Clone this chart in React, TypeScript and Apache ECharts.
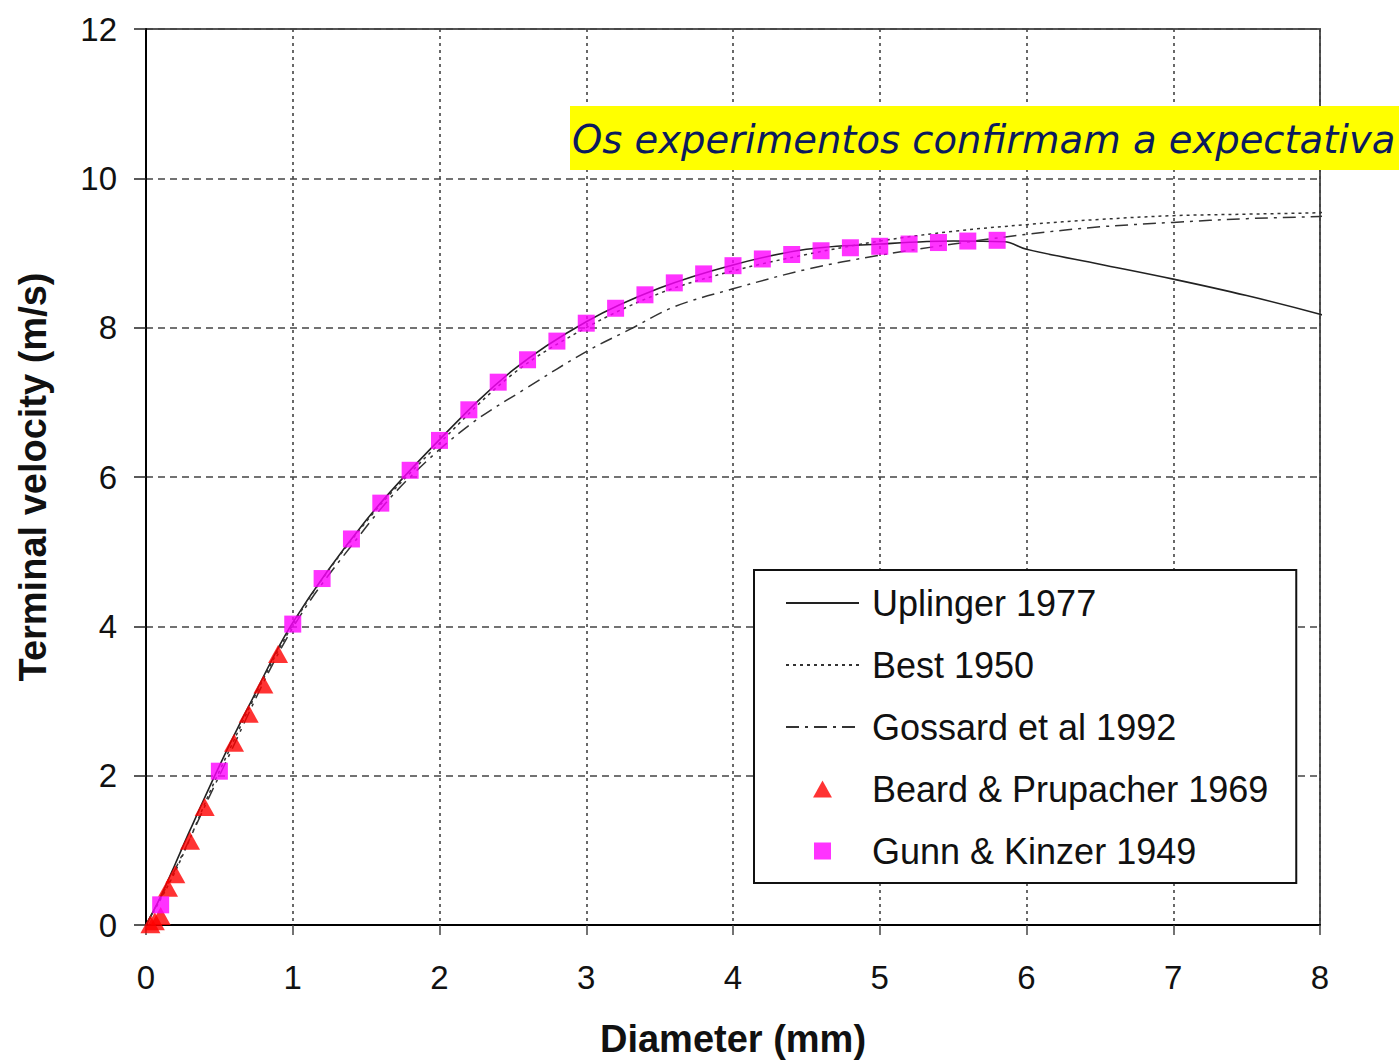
import React, { useEffect, useRef } from "react";
import * as echarts from "echarts";

// Terminal fall velocity of raindrops versus drop diameter

// Uplinger 1977 (solid curve)
const uplingerD = [0, 0.1, 0.2, 0.3, 0.5, 0.7, 1.0, 1.5, 2.0, 2.5, 3.0, 3.5, 4.0, 4.5, 5.0, 5.5, 5.85, 6.0, 6.5, 7.0, 7.5, 8.0, 8.07];
const uplingerV = [0, 0.38, 0.82, 1.27, 2.13, 2.93, 4.05, 5.42, 6.5, 7.43, 8.08, 8.53, 8.84, 9.05, 9.12, 9.16, 9.15, 9.05, 8.85, 8.65, 8.43, 8.18, 8.13];

// Best 1950 (dotted curve)
const bestD = [0, 0.2, 0.5, 1.0, 1.5, 2.0, 2.5, 3.0, 3.5, 4.0, 4.5, 5.0, 5.5, 6.0, 6.5, 7.0, 7.5, 8.0, 8.07];
const bestV = [0, 0.72, 2.06, 4.02, 5.4, 6.45, 7.38, 8.0, 8.46, 8.76, 8.98, 9.16, 9.29, 9.38, 9.45, 9.5, 9.52, 9.54, 9.55];

// Gossard et al 1992 (dash-dot curve)
const gossardD = [0, 0.2, 0.5, 1.0, 1.5, 1.8, 2.2, 2.6, 3.0, 3.3, 3.6, 4.0, 4.5, 5.0, 5.5, 6.0, 6.5, 7.0, 7.5, 8.0, 8.07];
const gossardV = [0, 0.75, 2.0, 3.98, 5.33, 6.0, 6.69, 7.2, 7.68, 7.98, 8.28, 8.52, 8.78, 8.97, 9.12, 9.25, 9.35, 9.41, 9.46, 9.49, 9.5];

// Beard & Prupacher 1969 (triangles)
const beardD = [0.03, 0.06, 0.1, 0.15, 0.2, 0.3, 0.4, 0.6, 0.7, 0.8, 0.9];
const beardV = [0.01, 0.05, 0.12, 0.5, 0.68, 1.13, 1.58, 2.44, 2.83, 3.22, 3.63];

// Gunn & Kinzer 1949 (squares)
const gunnD = [0.1, 0.5, 1.0, 1.2, 1.4, 1.6, 1.8, 2.0, 2.2, 2.4, 2.6, 2.8, 3.0, 3.2, 3.4, 3.6, 3.8, 4.0, 4.2, 4.4, 4.6, 4.8, 5.0, 5.2, 5.4, 5.6, 5.8];
const gunnV = [0.27, 2.06, 4.03, 4.64, 5.17, 5.65, 6.09, 6.49, 6.9, 7.27, 7.57, 7.82, 8.06, 8.26, 8.44, 8.6, 8.72, 8.83, 8.92, 8.98, 9.03, 9.07, 9.09, 9.12, 9.14, 9.16, 9.17];

const seriesNames = [
  "Uplinger 1977",
  "Best 1950",
  "Gossard et al 1992",
  "Beard & Prupacher 1969",
  "Gunn & Kinzer 1949",
];

const xAxisName = "Diameter (mm)";
const yAxisName = "Terminal velocity (m/s)";
const note = "Os experimentos confirmam a expectativa";

// Legend marker outlines (kept square/triangular inside the wide legend slot)
const TRIANGLE_ICON = "path://M0,18 L10,0 L20,18 Z";
const SQUARE_ICON = "path://M0,0 L10,0 L10,10 L0,10 Z";

const pairs = (xs: number[], ys: number[]) => xs.map((x, i) => [x, ys[i]]);

const FONT = '"Liberation Sans", Arial, sans-serif';

export default function App() {
  const ref = useRef<HTMLDivElement>(null);

  useEffect(() => {
    if (!ref.current) return;
    const chart = echarts.init(ref.current, null, { renderer: "svg" });

    const lineBase = {
      type: "line" as const,
      showSymbol: false,
      symbol: "none",
      smooth: 0.35,
      clip: false,
      z: 3,
    };

    chart.setOption({
      animation: false,
      backgroundColor: "#ffffff",
      grid: {
        left: 146,
        right: 79,
        top: 29,
        bottom: 128,
        show: true,
        borderColor: "#555",
        borderWidth: 2,
        backgroundColor: "transparent",
      },
      xAxis: {
        type: "value",
        min: 0,
        max: 8,
        interval: 1,
        name: xAxisName,
        nameLocation: "middle",
        nameGap: 95,
        nameTextStyle: { fontSize: 38, fontWeight: "bold", fontFamily: FONT, color: "#111" },
        axisLine: { show: true, onZero: false, lineStyle: { color: "#000", width: 2 } },
        axisTick: { show: true, length: 10, lineStyle: { color: "#444", width: 1.5 } },
        axisLabel: { fontSize: 33, fontFamily: FONT, color: "#111", margin: 36 },
        splitLine: { show: true, lineStyle: { color: "#444", width: 1.6, type: [3, 4] } },
      },
      yAxis: {
        type: "value",
        min: 0,
        max: 12,
        interval: 2,
        name: yAxisName,
        nameLocation: "middle",
        nameGap: 94,
        nameTextStyle: { fontSize: 38, fontWeight: "bold", fontFamily: FONT, color: "#111" },
        axisLine: { show: true, onZero: false, lineStyle: { color: "#000", width: 2 } },
        axisTick: { show: true, length: 12, lineStyle: { color: "#222", width: 1.5 } },
        axisLabel: { fontSize: 33, fontFamily: FONT, color: "#111", margin: 29 },
        splitLine: { show: true, lineStyle: { color: "#444", width: 1.6, type: [7, 5] } },
      },
      legend: {
        orient: "vertical",
        left: 754,
        top: 570,
        padding: [13, 28, 12, 31],
        itemWidth: 73,
        itemHeight: 17,
        itemGap: 22,
        symbolKeepAspect: true,
        borderColor: "#111",
        borderWidth: 2,
        backgroundColor: "#fff",
        selectedMode: false,
        textStyle: {
          fontSize: 36,
          fontFamily: FONT,
          color: "#111",
          lineHeight: 40,
          padding: [0, 0, 0, 8],
        },
        data: [
          { name: seriesNames[0], itemStyle: { opacity: 0 } },
          { name: seriesNames[1], itemStyle: { opacity: 0 } },
          { name: seriesNames[2], itemStyle: { opacity: 0 } },
          { name: seriesNames[3], icon: TRIANGLE_ICON },
          { name: seriesNames[4], icon: SQUARE_ICON },
        ],
      },
      series: [
        {
          ...lineBase,
          name: seriesNames[0],
          data: pairs(uplingerD, uplingerV),
          lineStyle: { color: "#222", width: 1.6, type: "solid" },
          itemStyle: { color: "#222" },
        },
        {
          ...lineBase,
          name: seriesNames[1],
          data: pairs(bestD, bestV),
          lineStyle: { color: "#333", width: 1.5, type: [3, 4] },
          itemStyle: { color: "#333" },
        },
        {
          ...lineBase,
          name: seriesNames[2],
          data: pairs(gossardD, gossardV),
          lineStyle: { color: "#333", width: 1.5, type: [13, 6, 3, 6] },
          itemStyle: { color: "#333" },
        },
        {
          type: "scatter",
          name: seriesNames[3],
          data: pairs(beardD, beardV),
          symbol: "triangle",
          symbolSize: [20, 18],
          itemStyle: { color: "#ff0000" },
          z: 4,
          clip: false,
        },
        {
          type: "scatter",
          name: seriesNames[4],
          data: pairs(gunnD, gunnV),
          symbol: "rect",
          symbolSize: 17,
          itemStyle: { color: "#ff00ff" },
          z: 5,
          clip: false,
        },
      ],
      graphic: [
        {
          type: "rect",
          z: 100,
          shape: { x: 570, y: 106, width: 829, height: 64 },
          style: { fill: "#ffff00" },
        },
        {
          type: "text",
          z: 101,
          x: 572,
          y: 139,
          style: {
            text: note,
            fontSize: 38.5,
            fontStyle: "italic",
            fontFamily: '"DejaVu Sans", sans-serif',
            fill: "#0b1a5e",
            verticalAlign: "middle",
          },
        },
      ],
    });

    return () => chart.dispose();
  }, []);

  return (
    <div
      ref={ref}
      style={{ position: "absolute", left: 0, top: 0, width: 1399, height: 1063 }}
    />
  );
}
